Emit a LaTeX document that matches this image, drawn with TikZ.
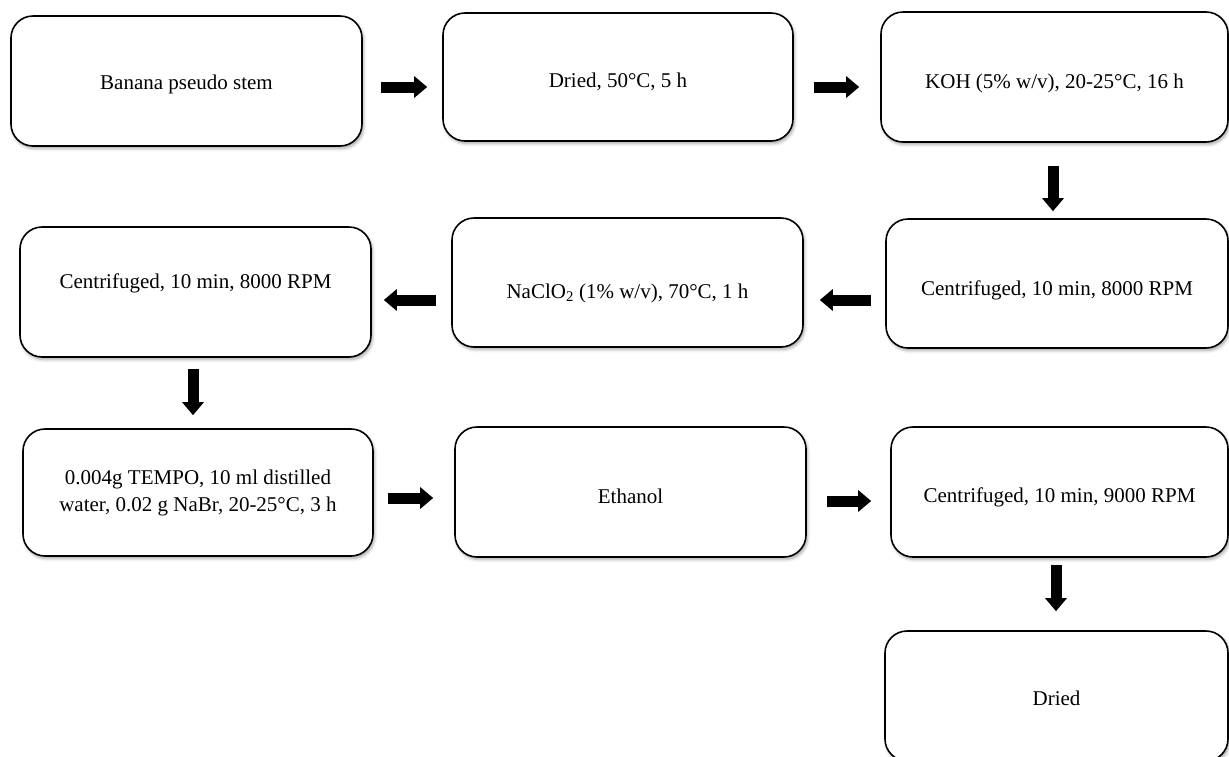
\documentclass[tikz,border=0pt]{standalone}
\usepackage{fontspec}
\setmainfont{Liberation Serif}
\usetikzlibrary{arrows.meta,calc,shadows.blur}
\begin{document}
\begin{tikzpicture}[x=1pt,y=-1pt,
  stepbox/.style={draw=black, line width=1.6pt, rounded corners=22pt, fill=white,
    align=center, inner sep=0pt, font=\fontsize{21}{27}\selectfont,
    blur shadow={shadow xshift=1.5pt, shadow yshift=-2.5pt, shadow blur radius=3pt, shadow opacity=35}},
  fat/.style={line width=11pt, -{Triangle[length=13pt,width=21pt]}}]
\useasboundingbox (0,0) rectangle (1229,756);
\clip (0,0) rectangle (1229,756);
% row 1
\node[stepbox, minimum width=351pt, minimum height=130pt, text height=20pt, text depth=4pt] (A) at (186.5,81) {Banana pseudo stem};
\node[stepbox, minimum width=350pt, minimum height=128pt, text height=25pt, text depth=4pt] (B) at (618,77) {Dried, 50°C, 5 h};
\node[stepbox, minimum width=347pt, minimum height=130pt, text height=27pt, text depth=4pt] (C) at (1054.5,77) {KOH (5\% w/v), 20-25°C, 16 h};
% row 2
\node[stepbox, minimum width=342pt, minimum height=129pt, text height=27pt, text depth=4pt] (D) at (1057,283.5) {Centrifuged, 10 min, 8000 RPM};
\node[stepbox, minimum width=351pt, minimum height=129pt, text height=36pt, text depth=4pt] (E) at (627.5,282.5) {NaClO\textsubscript{2} (1\% w/v), 70°C, 1 h};
\node[stepbox, minimum width=351pt, minimum height=130pt, text height=14pt, text depth=22pt] (F) at (195.5,292) {Centrifuged, 10 min, 8000 RPM};
% row 3
\node[stepbox, minimum width=350pt, minimum height=127pt] (G) at (198,492.5) {0.004g TEMPO, 10 ml distilled\\water, 0.02 g NaBr, 20-25°C, 3 h};
\node[stepbox, minimum width=351pt, minimum height=130pt, text height=26pt, text depth=4pt] (H) at (630.5,492) {Ethanol};
\node[stepbox, minimum width=337pt, minimum height=130pt, text height=25pt, text depth=4pt] (I) at (1059.5,492) {Centrifuged, 10 min, 9000 RPM};
% row 4
\node[stepbox, minimum width=343pt, minimum height=130pt, text height=22pt, text depth=4pt] (J) at (1056.5,696) {Dried};
% arrows
\draw[fat] ($(A.east)+(18,6)$) -- ($(B.west)+(-15,10)$);
\draw[fat] ($(B.east)+(20,10)$) -- ($(C.west)+(-21,10)$);
\draw[fat] ($(C.south)+(-1.5,23)$) -- ($(D.north)+(-4,-7)$);
\draw[fat] ($(D.west)+(-14,16.5)$) -- ($(E.east)+(16,17.5)$);
\draw[fat] ($(E.west)+(-15,17.5)$) -- ($(F.east)+(12,8)$);
\draw[fat] ($(F.south)+(-2.5,11)$) -- ($(G.north)+(-5,-13)$);
\draw[fat] ($(G.east)+(14,5.5)$) -- ($(H.west)+(-21,6)$);
\draw[fat] ($(H.east)+(20,9)$) -- ($(I.west)+(-19,9)$);
\draw[fat] ($(I.south)+(-3.5,7)$) -- ($(J.north)+(-0.5,-19)$);
\end{tikzpicture}
\end{document}
